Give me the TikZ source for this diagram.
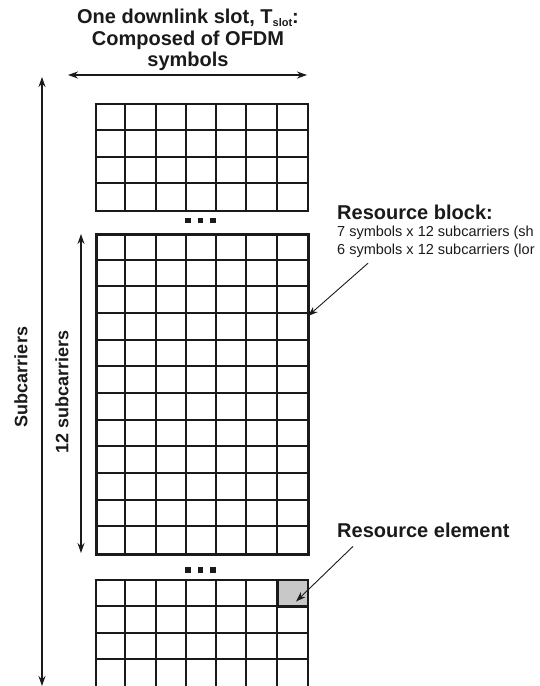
\documentclass[tikz,border=0pt]{standalone}
\usepackage{fontspec}
\setmainfont{Liberation Sans}
\usetikzlibrary{arrows.meta, calc}
\definecolor{line-dark}{HTML}{1A1A1A}
\definecolor{re-fill}{HTML}{C8C8C8}

\begin{document}
\begin{tikzpicture}[x=1pt, y=-1pt,
        every node/.style={inner sep=0pt, text=line-dark},
        big/.style={font=\fontsize{20}{21.5}\selectfont\bfseries},
        side/.style={font=\fontsize{18}{20}\selectfont\bfseries, rotate=90},
        small/.style={font=\fontsize{14.5}{16}\selectfont},
        gridbox/.style={draw=line-dark, line width=2pt, anchor=north west,
            minimum width=212pt},
        cell/.style={line-dark, line width=2pt},
        arr/.style={line-dark, line width=1.2pt, -{Stealth[length=10pt, width=7pt]}},
        dot/.style={fill=line-dark, minimum size=5.5pt}]
      \useasboundingbox (0,0) rectangle (539,686);
      % labels
      \node[big, align=center] (title) at (188,40)
            {One downlink slot, T{\fontsize{11}{11}\selectfont\raisebox{-3pt}{slot}}:\\
             Composed of OFDM\\ symbols};
      \node[side] (sublbl) at (21,377) {Subcarriers};
      \node[side] (twelve) at (62,392) {12 subcarriers};
      \node[big, anchor=base west] (rbtitle) at (337,219) {Resource block:};
      \node[small, anchor=base west] (rbshort) at (337,236) {7 symbols x 12 subcarriers (sh};
      \node[small, anchor=base west] (rblong) at (337,254) {6 symbols x 12 subcarriers (lor};
      \node[big, anchor=base west] (retitle) at (337,537) {Resource element};
      % top grid
      \node[gridbox, minimum height=107pt] (topgrid) at (95,103) {};
      \foreach \x in {125,156,186,216,246,277}
        \draw[cell] (\x,103) -- (\x,210);
      \foreach \y in {130,157,183}
        \draw[cell] (95,\y) -- (307,\y);
      \foreach \k in {188,200.5,213}
        \node[dot] at (\k,220.5) {};
      % resource block
      \node[gridbox, minimum height=320pt, line width=3pt] (rblock) at (95,233) {};
      \foreach \x in {125,156,186,216,246,277}
        \draw[cell] (\x,233) -- (\x,553);
      \foreach \y in {260,286,313,340,366,393,420,446,473,500,526}
        \draw[cell] (95,\y) -- (307,\y);
      \foreach \k in {188,200.5,213}
        \node[dot] at (\k,570) {};
      % bottom grid
      \node[draw=line-dark, fill=re-fill, anchor=north west, minimum width=30pt,
            minimum height=27pt, line width=2pt] (recell) at (277,579) {};
      \node[gridbox, minimum height=112pt] (botgrid) at (95,579) {};
      \foreach \x in {125,156,186,216,246,277}
        \draw[cell] (\x,579) -- (\x,692);
      \foreach \y in {606,633,659}
        \draw[cell] (95,\y) -- (307,\y);
      % arrows
      \coordinate (slotL) at (68,75);
      \coordinate (slotR) at (307,75);
      \draw[arr, {Stealth[length=10pt, width=7pt]}-{Stealth[length=10pt, width=7pt]}] (slotL) -- (slotR);
      \coordinate (subT) at (42,77);
      \coordinate (subB) at (42,686);
      \draw[arr, {Stealth[length=10pt, width=7pt]}-{Stealth[length=10pt, width=7pt]}] (subT) -- (subB);
      \coordinate (twT) at (81,234);
      \coordinate (twB) at (81,553);
      \draw[arr, {Stealth[length=10pt, width=7pt]}-{Stealth[length=10pt, width=7pt]}] (twT) -- (twB);
      \coordinate (rbtip) at (308,316);
      \draw[arr, line width=0.9pt] ($(rblong.south west)+(31,6)$) -- (rbtip);
      \draw[arr, line width=0.9pt] ($(retitle.south west)+(16,9)$) -- ($(recell.center)+(3,8)$);
    \end{tikzpicture}
\end{document}
